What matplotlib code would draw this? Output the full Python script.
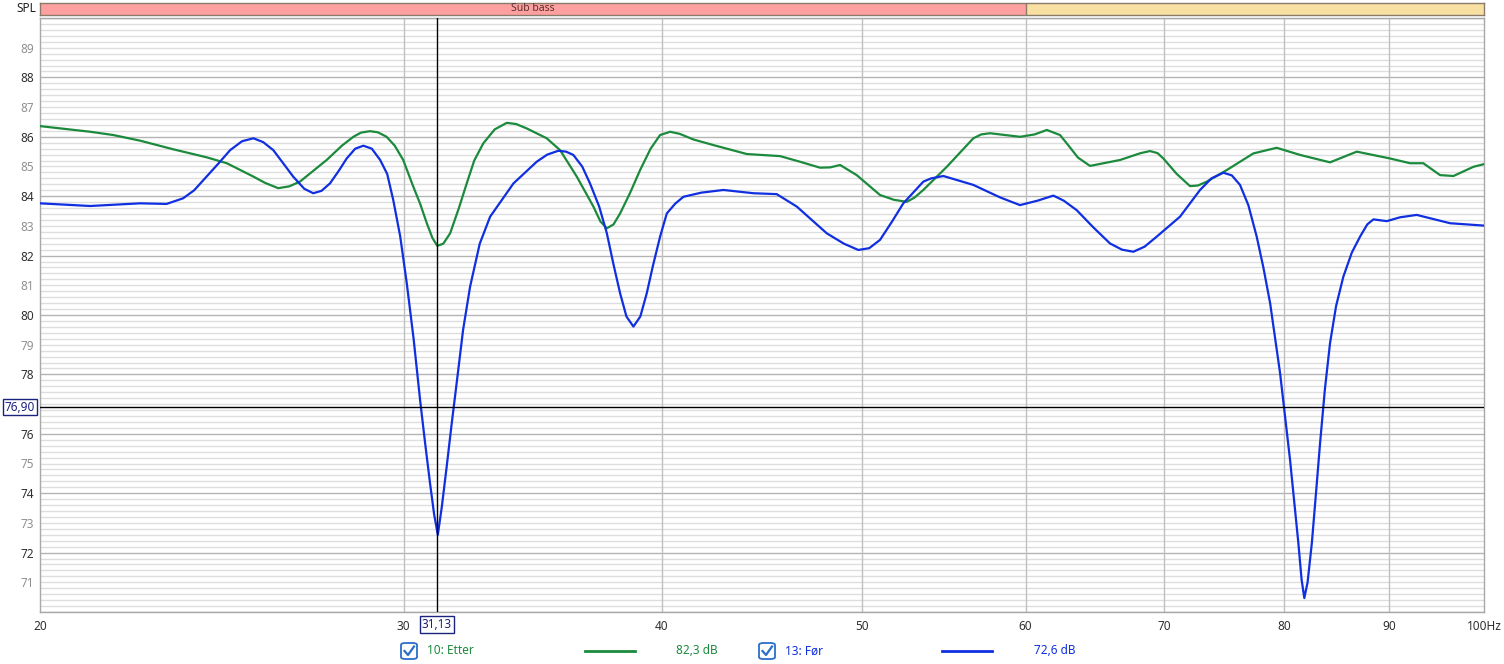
import matplotlib
matplotlib.use("Agg")
import matplotlib.pyplot as plt
from matplotlib.patches import FancyBboxPatch
from matplotlib.lines import Line2D
import matplotlib.transforms as mtransforms

plt.rcParams['font.family'] = ['Noto Sans', 'DejaVu Sans']

# ---------------- data ----------------
etter_freq = [20.0, 21.15, 21.70, 22.36, 23.20, 24.08, 24.63, 25.37, 25.70, 26.08,
              26.40, 26.72, 27.53, 28.00, 28.36, 28.60, 28.89, 29.15, 29.43, 29.70,
              29.98, 30.32, 30.55, 30.78, 30.97, 31.14, 31.35, 31.59, 31.90, 32.18,
              32.45, 32.78, 33.20, 33.65, 34.00, 34.41, 35.18, 35.71, 36.38, 37.06,
              37.35, 37.62, 37.90, 38.18, 38.60, 39.04, 39.50, 39.92, 40.37, 40.80,
              41.43, 42.37, 43.97, 45.63, 46.66, 47.71, 48.25, 48.79, 49.70, 50.40,
              51.01, 51.80, 52.55, 53.00, 53.53, 54.95, 56.60, 57.10, 57.66, 59.62,
              60.60, 61.43, 62.34, 62.81, 63.60, 64.46, 66.66, 68.20, 68.92, 69.50,
              69.95, 71.00, 72.06, 72.70, 73.42, 75.07, 77.33, 79.37, 81.46, 84.23,
              86.78, 90.06, 92.09, 93.46, 95.22, 96.65, 98.83, 100.0]
etter_db = [86.36, 86.17, 86.06, 85.87, 85.58, 85.31, 85.11, 84.66, 84.45, 84.27,
            84.33, 84.49, 85.22, 85.70, 86.00, 86.14, 86.19, 86.15, 86.00, 85.70,
            85.22, 84.32, 83.75, 83.09, 82.60, 82.33, 82.40, 82.75, 83.60, 84.43,
            85.20, 85.78, 86.25, 86.47, 86.43, 86.28, 85.95, 85.55, 84.66, 83.65,
            83.15, 82.92, 83.05, 83.42, 84.10, 84.88, 85.60, 86.06, 86.17, 86.10,
            85.91, 85.72, 85.42, 85.35, 85.16, 84.96, 84.97, 85.05, 84.71, 84.35,
            84.04, 83.88, 83.81, 83.95, 84.21, 84.99, 85.95, 86.08, 86.12, 86.00,
            86.08, 86.23, 86.06, 85.78, 85.30, 85.02, 85.22, 85.45, 85.52, 85.45,
            85.27, 84.75, 84.34, 84.36, 84.49, 84.88, 85.44, 85.63, 85.39, 85.14,
            85.50, 85.27, 85.11, 85.11, 84.71, 84.68, 84.99, 85.08]

for_freq = [20.0, 21.15, 22.36, 23.03, 23.46, 23.75, 24.08, 24.40, 24.72, 25.05,
            25.37, 25.65, 25.94, 26.20, 26.52, 26.85, 27.12, 27.37, 27.63, 27.90,
            28.15, 28.42, 28.68, 28.95, 29.22, 29.45, 29.65, 29.88, 30.10, 30.33,
            30.55, 30.72, 30.89, 31.03, 31.16, 31.30, 31.47, 31.64, 31.82, 32.05,
            32.30, 32.65, 33.03, 33.90, 34.79, 35.20, 35.64, 35.95, 36.24, 36.60,
            36.92, 37.30, 37.62, 37.90, 38.18, 38.45, 38.75, 39.05, 39.33, 39.60,
            39.92, 40.22, 40.60, 40.97, 41.80, 42.84, 44.29, 45.46, 46.49, 48.07,
            49.00, 49.79, 50.40, 51.01, 51.70, 52.35, 53.53, 54.00, 54.74, 56.60,
            58.31, 59.62, 60.80, 61.88, 62.60, 63.51, 64.70, 65.91, 66.80, 67.65,
            68.50, 69.44, 71.26, 72.87, 73.80, 74.79, 75.50, 76.19, 76.90, 77.62,
            78.20, 78.79, 79.67, 80.56, 81.31, 81.60, 81.85, 82.15, 82.54, 82.90,
            83.30, 83.75, 84.23, 84.80, 85.49, 86.30, 87.10, 87.80, 88.40, 89.73,
            91.07, 92.78, 96.29, 100.0]
for_db = [83.76, 83.67, 83.76, 83.74, 83.93, 84.20, 84.66, 85.10, 85.55, 85.85,
          85.95, 85.82, 85.55, 85.15, 84.66, 84.25, 84.10, 84.18, 84.43, 84.85,
          85.27, 85.60, 85.70, 85.60, 85.22, 84.75, 83.87, 82.65, 81.07, 79.20,
          77.14, 75.70, 74.34, 73.30, 72.60, 73.55, 74.90, 76.30, 77.70, 79.50,
          80.95, 82.40, 83.31, 84.43, 85.16, 85.40, 85.53, 85.50, 85.39, 85.00,
          84.43, 83.65, 82.75, 81.70, 80.73, 79.95, 79.61, 79.95, 80.73, 81.65,
          82.64, 83.42, 83.75, 83.98, 84.12, 84.21, 84.10, 84.07, 83.65, 82.75,
          82.40, 82.19, 82.25, 82.53, 83.15, 83.76, 84.49, 84.60, 84.68, 84.38,
          83.96, 83.70, 83.85, 84.02, 83.85, 83.53, 82.95, 82.41, 82.20, 82.13,
          82.30, 82.64, 83.31, 84.21, 84.60, 84.79, 84.70, 84.38, 83.70, 82.64,
          81.60, 80.40, 78.04, 75.12, 72.32, 71.10, 70.47, 71.00, 72.32, 73.90,
          75.68, 77.50, 79.05, 80.30, 81.29, 82.10, 82.64, 83.05, 83.22, 83.16,
          83.29, 83.37, 83.09, 83.01]

x_ticks = [20, 30, 40, 50, 60, 70, 80, 90, 100]
x_tick_labels = ['20', '30', '40', '50', '60', '70', '80', '90', '100Hz']
y_ticks = list(range(71, 90))

cursor_freq = 31.13
cursor_db = 76.90
series_names = ['10: Etter', '13: Før']
series_values = ['82,3 dB', '72,6 dB']
band_label = 'Sub bass'

# ---------------- style ----------------
W, H = 1504, 664
GREEN = '#1b8a3c'
BLUE = '#0f2fe0'
NAVY = '#1a237e'

def fx(x):
    return x / W

def fy(y):
    return 1 - y / H

fig = plt.figure(figsize=(W / 100, H / 100), dpi=100)
fig.patch.set_facecolor('white')

ax_left, ax_right, ax_top, ax_bot = 40, 1484, 18, 612
ax = fig.add_axes([fx(ax_left), fy(ax_bot), (ax_right - ax_left) / W, (ax_bot - ax_top) / H])
ax.set_xscale('log')
ax.set_xlim(20, 100)
ax.set_ylim(70, 90)

# grid
for i in range(0, 101):
    v = 70 + i * 0.2
    if abs(v - round(v)) < 1e-6 and int(round(v)) % 2 == 0:
        ax.axhline(v, color='#b4b4b4', lw=1.0, zorder=1)
    else:
        ax.axhline(v, color='#dedede', lw=1.0, zorder=0.5)
for f in x_ticks[1:-1]:
    ax.axvline(f, color='#c0c0c0', lw=1.0, zorder=1)

ax.plot(etter_freq, etter_db, color=GREEN, lw=1.6, zorder=3, solid_joinstyle='round')
ax.plot(for_freq, for_db, color=BLUE, lw=1.6, zorder=4, solid_joinstyle='round')

# cursors
ax.axvline(cursor_freq, color='black', lw=1.0, zorder=5)
ax.axhline(cursor_db, color='black', lw=1.0, zorder=5)

for s in ax.spines.values():
    s.set_color('#a8a8a8')
    s.set_linewidth(1.0)

ax.set_xticks(x_ticks)
ax.set_xticklabels(x_tick_labels)
ax.xaxis.set_minor_locator(matplotlib.ticker.NullLocator())
ax.set_yticks(y_ticks)
# the label at 77 is hidden behind the cursor value box in the reference
ax.set_yticklabels(['' if v == 77 else str(v) for v in y_ticks])
ax.tick_params(axis='both', length=0, labelsize=8.5)
ax.tick_params(axis='x', pad=6, colors='#303030')
ax.tick_params(axis='y', pad=4)
for lbl, v in zip(ax.get_yticklabels(), y_ticks):
    lbl.set_color('#303030' if v % 2 == 0 else '#909090')

# cursor value boxes
trans_x = mtransforms.blended_transform_factory(ax.transData, ax.transAxes)
ax.text(cursor_freq, -0.021, f"{cursor_freq:.2f}".replace('.', ','), transform=trans_x,
        ha='center', va='center', fontsize=8.5, color=NAVY, zorder=6, clip_on=False,
        bbox=dict(boxstyle='square,pad=0.15', fc='white', ec=NAVY, lw=1.0))
trans_y = mtransforms.blended_transform_factory(ax.transAxes, ax.transData)
ax.text(-0.0035, cursor_db, f"{cursor_db:.2f}".replace('.', ','), transform=trans_y,
        ha='right', va='center', fontsize=8.5, color=NAVY, zorder=6, clip_on=False,
        bbox=dict(boxstyle='square,pad=0.15', fc='white', ec=NAVY, lw=1.0))

# band on top
ax_band = fig.add_axes([fx(ax_left), fy(15), (ax_right - ax_left) / W, 12.5 / H])
ax_band.set_xscale('log')
ax_band.set_xlim(20, 100)
ax_band.set_ylim(0, 1)
ax_band.axvspan(20, 60, color='#ffa0a0', lw=0)
ax_band.axvspan(60, 100, color='#f8e0a2', lw=0)
ax_band.axvline(60, color='#8a7a6a', lw=1.0)
ax_band.text((20 * 60) ** 0.5, 0.5, band_label, ha='center', va='center', fontsize=7.5, color='#5a3030')
ax_band.set_xticks([])
ax_band.set_yticks([])
ax_band.xaxis.set_minor_locator(matplotlib.ticker.NullLocator())
for s in ax_band.spines.values():
    s.set_color('#8a7a6a')
    s.set_linewidth(1.0)

fig.text(fx(36), fy(8), 'SPL', ha='right', va='center', fontsize=8.5, color='#202020')

# legend row
def checkbox(xc, yc):
    size = 16
    box = FancyBboxPatch((fx(xc - size / 2), fy(yc + size / 2)), size / W, size / H,
                         boxstyle='round,pad=0,rounding_size=0.003', transform=fig.transFigure,
                         fc='white', ec='#2a70c8', lw=1.3)
    fig.patches.append(box)
    fig.lines.append(Line2D([fx(xc - 4.5), fx(xc - 1), fx(xc + 5)],
                            [fy(yc), fy(yc + 4), fy(yc - 4.5)],
                            transform=fig.transFigure, color='#2a70c8', lw=1.6))

ly = 651
colors = [GREEN, BLUE]
entries = [(409, 427, 585, 635, 718), (767, 785, 942, 992, 1076)]
for (cbx, tx, l0, l1, vx), name, val, c in zip(entries, series_names, series_values, colors):
    checkbox(cbx, ly)
    fig.text(fx(tx), fy(ly), name, ha='left', va='center', fontsize=8.5, color=c)
    fig.lines.append(Line2D([fx(l0), fx(l1)], [fy(ly), fy(ly)], transform=fig.transFigure,
                            color=c, lw=2.0))
    fig.text(fx(vx), fy(ly), val, ha='right', va='center', fontsize=8.5, color=c)

fig.savefig('out.png', dpi=100, facecolor='white')
